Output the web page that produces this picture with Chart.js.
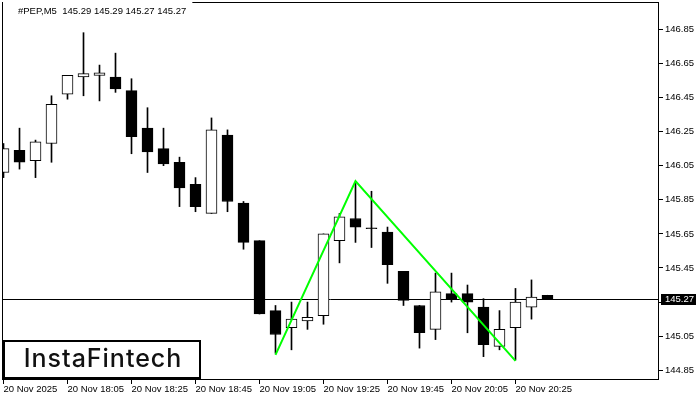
<!DOCTYPE html>
<html>
<head>
<meta charset="utf-8">
<title>#PEP,M5</title>
<script src="https://cdn.jsdelivr.net/npm/chart.js@4.4.1/dist/chart.umd.min.js"></script>
<style>
  html, body { margin: 0; padding: 0; background: #fff; }
  #wrap { width: 700px; height: 400px; }
</style>
</head>
<body>
<div id="wrap"><canvas id="chart"></canvas></div>
<script>
// M5 candles, 20 Nov 2025 17:45 .. 20:35
const symbol = '#PEP,M5';
const opens  = [146.01, 146.14, 146.08, 146.18, 146.47, 146.57, 146.58, 146.57, 146.49, 146.27,
                146.15, 146.07, 145.94, 145.77, 146.23, 145.83, 145.61, 145.20, 145.10, 145.14,
                145.17, 145.61, 145.74, 145.68, 145.66, 145.43, 145.23, 145.09, 145.30, 145.30,
                145.22, 144.99, 145.10, 145.22, 145.29];
const highs  = [146.18, 146.27, 146.20, 146.46, 146.58, 146.83, 146.64, 146.71, 146.56, 146.39,
                146.27, 146.10, 145.98, 146.33, 146.26, 145.84, 145.61, 145.23, 145.25, 145.25,
                145.65, 145.77, 145.95, 145.90, 145.69, 145.43, 145.23, 145.42, 145.42, 145.35,
                145.27, 145.20, 145.33, 145.38, 145.29];
const lows   = [145.98, 146.03, 145.98, 146.07, 146.44, 146.46, 146.43, 146.48, 146.12, 146.01,
                146.05, 145.81, 145.78, 145.77, 145.78, 145.56, 145.18, 144.95, 144.97, 145.09,
                145.12, 145.48, 145.60, 145.57, 145.36, 145.23, 144.98, 145.03, 145.25, 145.07,
                144.93, 144.97, 144.91, 145.15, 145.27];
const closes = [146.15, 146.07, 146.19, 146.41, 146.58, 146.59, 146.594, 146.50, 146.22, 146.13,
                146.06, 145.92, 145.81, 146.26, 145.84, 145.60, 145.18, 145.06, 145.15, 145.16,
                145.65, 145.75, 145.69, 145.68, 145.47, 145.26, 145.07, 145.31, 145.27, 145.25,
                145.00, 145.09, 145.25, 145.28, 145.27];

const xTicks = [0, 4, 8, 12, 16, 20, 24, 28, 32];
const xTickLabels = ['20 Nov 2025', '20 Nov 18:05', '20 Nov 18:25', '20 Nov 18:45', '20 Nov 19:05',
                     '20 Nov 19:25', '20 Nov 19:45', '20 Nov 20:05', '20 Nov 20:25'];
const yTicks = [146.85, 146.65, 146.45, 146.25, 146.05, 145.85, 145.65, 145.45, 145.25, 145.05, 144.85];

// double top pattern drawn in green
const patternIdx = [17, 22, 32];
const patternPrices = [144.94, 145.96, 144.905];

const last = closes.length - 1;
const lastClose = closes[last];

const bodies = opens.map((o, i) => ({ x: i, y: [o, closes[i]] }));
const wicks = lows.map((l, i) => ({ x: i, y: [l, highs[i]] }));
const pattern = patternIdx.map((x, i) => ({ x: x, y: patternPrices[i] }));

const labelFont = '9.5px "Liberation Sans"';

const chartDecor = {
    id: 'chartDecor',
    beforeDatasetsDraw(chart) {
        // bid line
        const { ctx, chartArea: a, scales } = chart;
        const y = Math.round(scales.y.getPixelForValue(lastClose)) + 0.5;
        ctx.save();
        ctx.strokeStyle = '#000';
        ctx.lineWidth = 1;
        ctx.beginPath();
        ctx.moveTo(a.left, y);
        ctx.lineTo(a.right, y);
        ctx.stroke();
        ctx.restore();
    },
    afterDraw(chart) {
        const { ctx, chartArea: a, scales } = chart;
        ctx.save();

        // frame
        ctx.strokeStyle = '#000';
        ctx.lineWidth = 1;
        ctx.strokeRect(a.left + 0.5, a.top + 0.5, a.width - 1, a.height - 1);

        // header text
        const header = symbol + '  ' + [opens[last], highs[last], lows[last], closes[last]]
            .map(v => v.toFixed(2)).join(' ');
        ctx.font = labelFont;
        const tw = ctx.measureText(header).width;
        ctx.fillStyle = '#fff';
        ctx.fillRect(a.left + 1, 0, 16 + tw + 5, a.top + 2);
        ctx.fillStyle = '#000';
        ctx.textBaseline = 'middle';
        ctx.textAlign = 'left';
        ctx.fillText(header, a.left + 16, 11);

        // current price box
        const py = Math.round(scales.y.getPixelForValue(lastClose)) + 0.5;
        ctx.fillStyle = '#000';
        ctx.fillRect(a.right + 2, py - 5.5, 35, 11);
        ctx.fillStyle = '#fff';
        ctx.fillText(lastClose.toFixed(2), a.right + 6, py);

        // logo
        ctx.fillStyle = '#fff';
        ctx.fillRect(a.left + 1, a.bottom - 40, 198, 39);
        ctx.strokeStyle = '#000';
        ctx.lineWidth = 2;
        ctx.strokeRect(a.left + 2, a.bottom - 39, 196, 37);
        ctx.fillStyle = '#111';
        ctx.font = '500 25px Inter';
        ctx.letterSpacing = '1px';
        ctx.textAlign = 'center';
        ctx.textBaseline = 'alphabetic';
        ctx.fillText('InstaFintech', a.left + 101, a.bottom - 13);

        ctx.restore();
    }
};

Chart.defaults.font.family = '"Liberation Sans"';
Chart.defaults.font.size = 9.5;
Chart.defaults.color = '#000';

new Chart(document.getElementById('chart'), {
    type: 'bar',
    data: {
        datasets: [
            {
                type: 'line',
                data: pattern,
                borderColor: '#00ff00',
                borderWidth: 2,
                pointRadius: 0,
                tension: 0,
                order: 0
            },
            {
                data: bodies,
                backgroundColor: c => closes[c.dataIndex] > opens[c.dataIndex] ? '#fff' : '#000',
                borderColor: '#000',
                borderWidth: 1,
                borderSkipped: false,
                barThickness: 11,
                minBarLength: 1,
                grouped: false,
                order: 1
            },
            {
                data: wicks,
                backgroundColor: '#000',
                borderWidth: 0,
                barThickness: 1,
                grouped: false,
                order: 2
            }
        ]
    },
    options: {
        responsive: true,
        maintainAspectRatio: false,
        animation: false,
        events: [],
        layout: { padding: { left: 2, top: 2, right: 0, bottom: 0 } },
        plugins: {
            legend: { display: false },
            tooltip: { enabled: false }
        },
        scales: {
            x: {
                type: 'linear',
                offset: false,
                min: -0.094,
                max: 40.97,
                border: { display: false },
                grid: { offset: false, drawOnChartArea: false, drawTicks: true, tickLength: 4, tickColor: '#000' },
                ticks: {
                    autoSkip: false,
                    maxRotation: 0,
                    align: 'start',
                    padding: 0,
                    callback: (v, i) => xTickLabels[i]
                },
                afterBuildTicks: scale => { scale.ticks = xTicks.map(v => ({ value: v })); },
                afterFit: scale => {
                    scale.height = 20;
                    scale.paddingLeft = 0;
                    scale.paddingRight = 0;
                }
            },
            y: {
                type: 'linear',
                position: 'right',
                min: 144.793,
                max: 147.01,
                border: { display: false },
                grid: { drawOnChartArea: false, drawTicks: true, tickLength: 4, tickColor: '#000' },
                ticks: {
                    padding: 2,
                    callback: v => v.toFixed(2)
                },
                afterBuildTicks: scale => { scale.ticks = yTicks.map(v => ({ value: v })); },
                afterFit: scale => {
                    scale.width = 41;
                    scale.paddingTop = 0;
                    scale.paddingBottom = 0;
                }
            }
        }
    },
    plugins: [chartDecor]
});
</script>
</body>
</html>
